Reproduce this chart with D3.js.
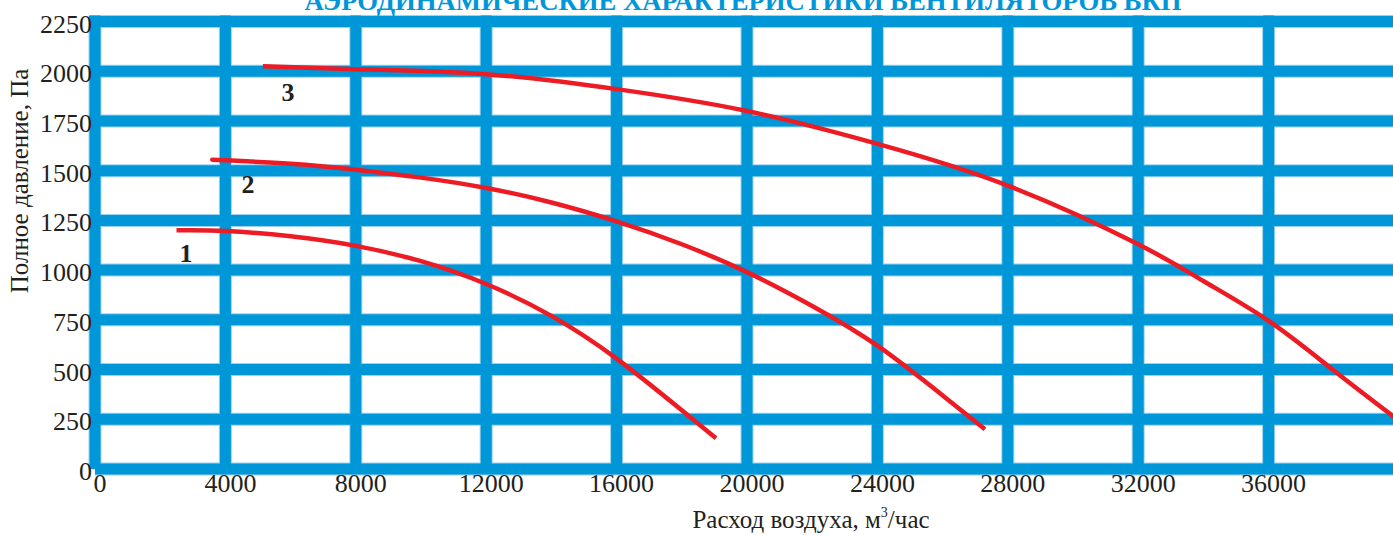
<!DOCTYPE html>
<html><head><meta charset="utf-8">
<script src="https://cdn.jsdelivr.net/npm/d3@7"></script>
<style>
html,body{margin:0;padding:0;background:#fff;overflow:hidden;}
text{font-family:"Liberation Serif","Times New Roman",serif;fill:#231f20;}
</style></head>
<body><svg id="chart" width="1393" height="535"></svg>
<script>
// ---- data ----
const title = "АЭРОДИНАМИЧЕСКИЕ ХАРАКТЕРИСТИКИ ВЕНТИЛЯТОРОВ ВКП";
const xTitle = "Расход воздуха, м";
const yTitle = "Полное давление, Па";
const xTicks = [0, 4000, 8000, 12000, 16000, 20000, 24000, 28000, 32000, 36000];
const yTicks = [0, 250, 500, 750, 1000, 1250, 1500, 1750, 2000, 2250];
const seriesNames = ["1", "2", "3"];
const curve1 = [[2500,1200],[4000,1197],[6000,1170],[8000,1122],[10000,1045],[12000,930],[14000,770],[16000,555],[18000,295],[19050,155]];
const curve2 = [[3600,1555],[4000,1552],[6000,1535],[8000,1505],[10000,1465],[12000,1413],[14000,1340],[16000,1245],[18000,1130],[20000,990],[22000,820],[24000,620],[26000,370],[27300,200]];
const curve3 = [[5150,2025],[8000,2010],[12000,1985],[16000,1910],[20000,1800],[24000,1635],[28000,1425],[32000,1130],[34000,945],[36000,745],[38000,495],[39900,255]];
const labelAnchors = [[2790,1040],[4690,1388],[5920,1850]];

// ---- layout ----
const svg = d3.select("#chart");
const x = d3.scaleLinear().domain([0, 40000]).range([95, 1399]);
const y = d3.scaleLinear().domain([0, 2250]).range([469, 21.5]);
const BLUE = "#0097d8", EDGE = "#9ad2f0", RED = "#ed1c24";

// grid (thick blue bars)
const g = svg.append("g");
function gridLayer(color, w){
  const l = g.append("g");
  l.selectAll("line.v").data(xTicks).join("line")
    .attr("x1", d => x(d)).attr("x2", d => x(d))
    .attr("y1", y(2250) - 6).attr("y2", y(0))
    .attr("stroke", color).attr("stroke-width", w);
  l.selectAll("line.h").data(yTicks).join("line")
    .attr("x1", d => d === 0 ? x(0) : x(0) - 6).attr("x2", 1400)
    .attr("y1", d => y(d)).attr("y2", d => y(d))
    .attr("stroke", color).attr("stroke-width", w);
}
gridLayer(EDGE, 13);
gridLayer(BLUE, 11);

// curves
const line = d3.line().x(d => x(d[0])).y(d => y(d[1])).curve(d3.curveNatural);
svg.append("g").selectAll("path").data([curve1, curve2, curve3]).join("path")
  .attr("d", line).attr("fill", "none").attr("stroke", RED)
  .attr("stroke-width", 4.5).attr("stroke-linecap", "butt");

// series labels
svg.append("g").selectAll("text").data(seriesNames).join("text")
  .attr("x", (d, i) => x(labelAnchors[i][0])).attr("y", (d, i) => y(labelAnchors[i][1]))
  .attr("text-anchor", "middle").attr("font-size", 26).attr("font-weight", "bold")
  .text(d => d);

// y tick labels
svg.append("g").selectAll("text").data(yTicks).join("text")
  .attr("x", 92).attr("y", d => y(d) + 11)
  .attr("text-anchor", "end").attr("font-size", 26).text(d => d);

// x tick labels
svg.append("g").selectAll("text").data(xTicks).join("text")
  .attr("x", d => x(d) + 5).attr("y", 492)
  .attr("text-anchor", "middle").attr("font-size", 26).text(d => d);

// axis titles
const xt = svg.append("text").attr("x", 811).attr("y", 528)
  .attr("text-anchor", "middle").attr("font-size", 25);
xt.append("tspan").text(xTitle);
xt.append("tspan").attr("font-size", 14).attr("dy", -11).text("3");
xt.append("tspan").attr("dy", 11).text("/час");

svg.append("text").attr("transform", "translate(28,181) rotate(-90)")
  .attr("text-anchor", "middle").attr("font-size", 25).text(yTitle);

// title (cut off at top, as in the reference)
svg.append("text").attr("x", 743).attr("y", 10)
  .attr("text-anchor", "middle").attr("font-size", 27).attr("font-weight", "bold")
  .attr("textLength", 877).attr("lengthAdjust", "spacingAndGlyphs")
  .style("fill", BLUE).text(title);
</script></body></html>
